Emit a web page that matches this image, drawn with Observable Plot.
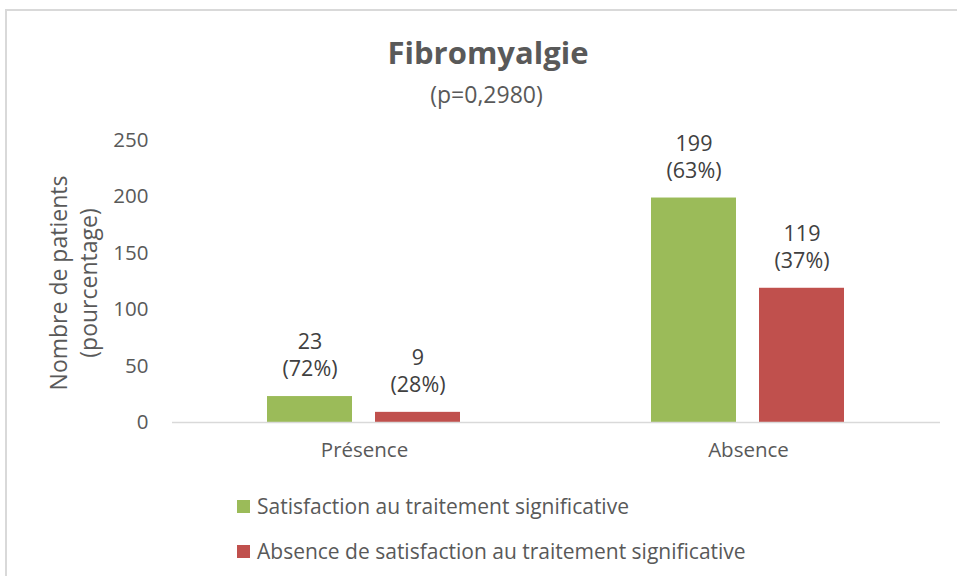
<!DOCTYPE html>
<html>
<head>
<meta charset="utf-8">
<script src="https://cdn.jsdelivr.net/npm/d3@7"></script>
<script src="https://cdn.jsdelivr.net/npm/@observablehq/plot@0.6"></script>
<style>
  html, body { margin: 0; padding: 0; background: #fff; }
  #wrap { position: relative; width: 957px; height: 576px; overflow: hidden; font-family: "Open Sans", sans-serif; color: #595959; }
  #frame { position: absolute; left: 5px; top: 9px; width: 1000px; height: 700px; border: 2px solid #d9d9d9; box-sizing: border-box; }
  #title { position: absolute; left: 0; width: 976px; top: 37px; text-align: center; font-size: 31px; line-height: 31px; font-weight: 700; }
  #subtitle { position: absolute; left: 0; width: 973px; top: 83px; text-align: center; font-size: 23px; line-height: 23px; }
  #ylabel { position: absolute; left: -77px; top: 253px; width: 300px; height: 60px; text-align: center; font-size: 23px; line-height: 30px; transform: rotate(-90deg); }
  #chart { position: absolute; left: 0; top: 120px; }
  .leg { position: absolute; left: 237px; display: flex; align-items: center; font-size: 21px; line-height: 26px; }
  .sw { width: 13px; height: 13px; margin-right: 7px; }
</style>
</head>
<body>
<div id="wrap">
  <div id="frame"></div>
  <div id="title">Fibromyalgie</div>
  <div id="subtitle">(p=0,2980)</div>
  <div id="ylabel">Nombre de patients<br>(pourcentage)</div>
  <div id="chart"></div>
  <div id="legend"></div>
</div>
<script>
const categories = ["Présence", "Absence"];
const series = ["Satisfaction au traitement significative", "Absence de satisfaction au traitement significative"];
const satisfied = [23, 199];
const notSatisfied = [9, 119];
const satisfiedPct = [72, 63];
const notSatisfiedPct = [28, 37];
const yTicks = [0, 50, 100, 150, 200, 250];
const colors = ["#9BBB59", "#C0504D"];

const rows = [];
categories.forEach((c, i) => {
  rows.push({cat: c, series: series[0], value: satisfied[i], pct: satisfiedPct[i]});
  rows.push({cat: c, series: series[1], value: notSatisfied[i], pct: notSatisfiedPct[i]});
});

const chart = Plot.plot({
  width: 957,
  height: 350,
  marginLeft: 172,
  marginRight: 17,
  marginTop: 20,
  marginBottom: 48,
  style: {fontFamily: "Open Sans", fontSize: "20.5px", color: "#595959", background: "transparent"},
  fx: {domain: categories, padding: 0, label: null, tickSize: 0, tickPadding: 20},
  x: {domain: series, paddingInner: 0.21, paddingOuter: 0.867, axis: null},
  y: {domain: [0, 250], ticks: yTicks, label: null, tickSize: 0, tickPadding: 24},
  color: {domain: series, range: colors},
  marks: [
    Plot.barY(rows, {fx: "cat", x: "series", y: "value", fill: "series"}),
    Plot.ruleY([0], {stroke: "#d9d9d9", strokeWidth: 1.5}),
    Plot.text(rows, {fx: "cat", x: "series", y: "value", text: d => `(${d.pct}%)`, frameAnchor: "middle", dy: -27, fill: "#404040", fontSize: 21.5}),
    Plot.text(rows, {fx: "cat", x: "series", y: "value", text: d => `${d.value}`, frameAnchor: "middle", dy: -54, fill: "#404040", fontSize: 21.5})
  ]
});
document.getElementById("chart").appendChild(chart);

const legend = document.getElementById("legend");
series.forEach((s, i) => {
  const row = document.createElement("div");
  row.className = "leg";
  row.style.top = (493 + i * 45) + "px";
  const sw = document.createElement("div");
  sw.className = "sw";
  sw.style.background = colors[i];
  const t = document.createElement("span");
  t.textContent = s;
  row.appendChild(sw);
  row.appendChild(t);
  legend.appendChild(row);
});
</script>
</body>
</html>
